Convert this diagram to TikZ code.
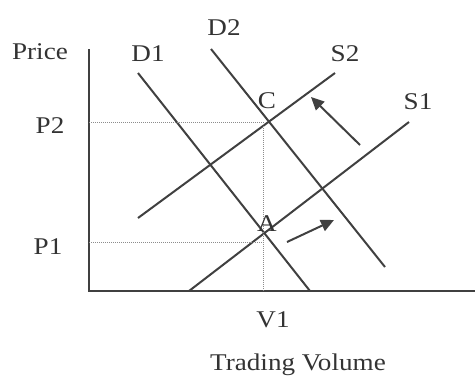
\documentclass[tikz,border=0pt]{standalone}
\usepackage{fontspec}
\setmainfont{Liberation Serif}[FakeStretch=1.13]
\usetikzlibrary{arrows.meta}
\begin{document}
\begin{tikzpicture}[x=1pt,y=-1pt,
  lbl/.style={anchor=base,inner sep=0pt,text=black!80,font=\fontsize{24}{26}\selectfont},
  curve/.style={draw=black!75,line width=2pt},
  axis/.style={draw=black!75,line width=2.2pt},
  guide/.style={draw=black!45,line width=1pt,densely dotted},
  shiftarrow/.style={draw=black!75,line width=2pt,-{Triangle[length=13pt,width=12pt]}}]
\useasboundingbox (0,0) rectangle (475,376);
% axes
\coordinate (top) at (89,49);
\coordinate (orig) at (89,291);
\coordinate (xend) at (475,291);
\draw[axis] (top) -- (orig) -- (xend);
% curves
\coordinate (d1a) at (138,73);  \coordinate (d1b) at (310,291);
\coordinate (d2a) at (211,49);  \coordinate (d2b) at (385,267);
\coordinate (s2a) at (138,218); \coordinate (s2b) at (335,73);
\coordinate (s1a) at (189,291); \coordinate (s1b) at (409,122);
\draw[curve] (d1a) -- (d1b);
\draw[curve] (d2a) -- (d2b);
\draw[curve] (s2a) -- (s2b);
\draw[curve] (s1a) -- (s1b);
% guides
\coordinate (p2y) at (89,122); \coordinate (cpt) at (263,122);
\coordinate (p1y) at (89,242); \coordinate (apt) at (263,242);
\coordinate (v1x) at (263,291);
\draw[guide] (p2y) -- (cpt) -- (v1x);
\draw[guide] (p1y) -- (apt);
% shift arrows
\coordinate (ar1s) at (360,145); \coordinate (ar1e) at (311,97);
\coordinate (ar2s) at (287,242); \coordinate (ar2e) at (334,220);
\draw[shiftarrow] (ar1s) -- (ar1e);
\draw[shiftarrow] (ar2s) -- (ar2e);
% labels
\node[lbl] (price) at (40,59) {Price};
\node[lbl] (D1) at (148,61) {D1};
\node[lbl] (D2) at (224,35) {D2};
\node[lbl] (S2) at (345,61) {S2};
\node[lbl] (S1) at (418,109) {S1};
\node[lbl] (C) at (267,108) {C};
\node[lbl] (A) at (267,231) {A};
\node[lbl] (P2) at (50,133) {P2};
\node[lbl] (P1) at (48,254) {P1};
\node[lbl] (V1) at (273,327) {V1};
\node[lbl] (tv) at (298,370) {Trading Volume};
\end{tikzpicture}
\end{document}
